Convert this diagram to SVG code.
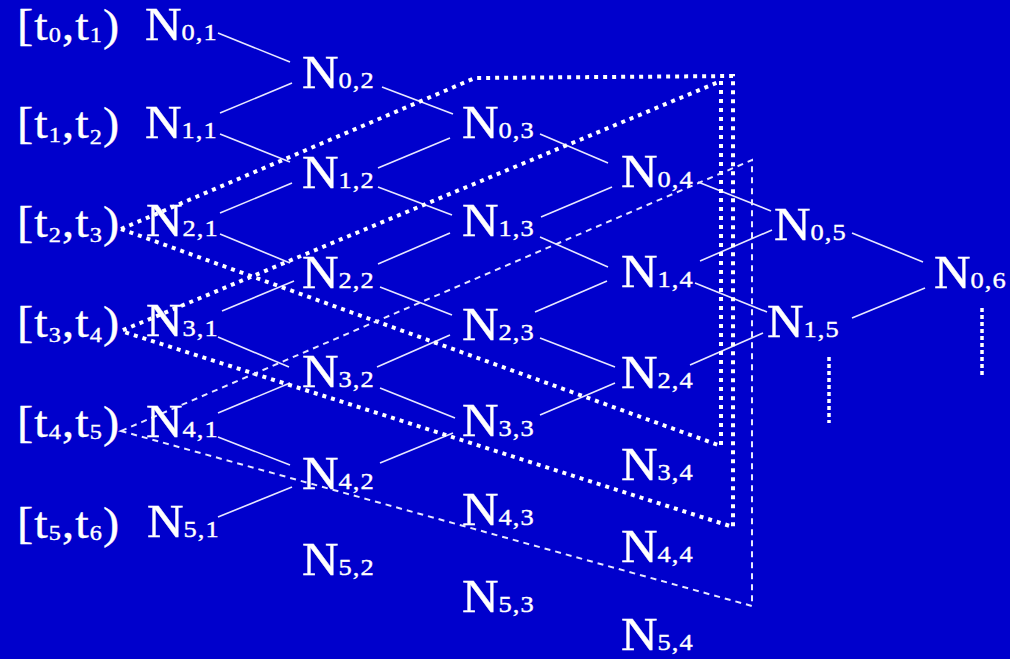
<svg xmlns="http://www.w3.org/2000/svg" width="1010" height="659" viewBox="0 0 1010 659">
<style>
.t{font-family:"Liberation Serif","Times New Roman",serif;fill:#FFFFFF;stroke:#FFFFFF;stroke-width:0.4}
.N{font-size:46px}
.s{font-size:24px;letter-spacing:1px}
.b{font-size:44px;letter-spacing:1px}
.bs{font-size:22px}
.e{stroke:#E8E8FF;stroke-width:1.6;fill:none}
.dot{stroke:#FFFFFF;stroke-width:4;stroke-dasharray:4 5;fill:none}
.vd{stroke:#FFFFFF;stroke-width:3.5;stroke-dasharray:4 3;fill:none}
.ds{stroke:#E8E8FF;stroke-width:2;stroke-dasharray:6 5;fill:none}
</style>
<rect width="1010" height="659" fill="#0000CC"/>
<g id="intervals" class="t">
<text class="b" transform="translate(17,40) scale(1.1,1)">[t<tspan class="bs" dy="2">0</tspan><tspan dy="-2">,t</tspan><tspan class="bs" dy="2">1</tspan><tspan dy="-2">)</tspan></text>
<text class="b" transform="translate(17,138) scale(1.1,1)">[t<tspan class="bs" dy="4">1</tspan><tspan dy="-4">,t</tspan><tspan class="bs" dy="6">2</tspan><tspan dy="-6">)</tspan></text>
<text class="b" transform="translate(17,237) scale(1.1,1)">[t<tspan class="bs" dy="5">2</tspan><tspan dy="-5">,t</tspan><tspan class="bs" dy="5">3</tspan><tspan dy="-5">)</tspan></text>
<text class="b" transform="translate(17,337) scale(1.1,1)">[t<tspan class="bs" dy="5">3</tspan><tspan dy="-5">,t</tspan><tspan class="bs" dy="5">4</tspan><tspan dy="-5">)</tspan></text>
<text class="b" transform="translate(17,437) scale(1.1,1)">[t<tspan class="bs" dy="2">4</tspan><tspan dy="-2">,t</tspan><tspan class="bs" dy="2">5</tspan><tspan dy="-2">)</tspan></text>
<text class="b" transform="translate(17,538) scale(1.1,1)">[t<tspan class="bs" dy="2">5</tspan><tspan dy="-2">,t</tspan><tspan class="bs" dy="2">6</tspan><tspan dy="-2">)</tspan></text>
</g>
<g id="connectors">
<g class="e">
<line x1="218" y1="33" x2="290" y2="62"/>
<line x1="220" y1="113" x2="292" y2="83"/>
<line x1="220" y1="134" x2="290" y2="162"/>
<line x1="220" y1="213" x2="292" y2="183"/>
<line x1="220" y1="234" x2="290" y2="263"/>
<line x1="222" y1="311" x2="294" y2="281"/>
<line x1="218" y1="337" x2="289" y2="367"/>
<line x1="218" y1="413" x2="290" y2="383"/>
<line x1="218" y1="437" x2="290" y2="465"/>
<line x1="218" y1="517" x2="292" y2="487"/>
<line x1="382" y1="87" x2="453" y2="114"/>
<line x1="378" y1="168" x2="450" y2="138"/>
<line x1="378" y1="187" x2="452" y2="215"/>
<line x1="378" y1="264" x2="450" y2="233"/>
<line x1="380" y1="287" x2="452" y2="315"/>
<line x1="377" y1="367" x2="450" y2="335"/>
<line x1="380" y1="388" x2="455" y2="418"/>
<line x1="380" y1="463" x2="453" y2="433"/>
<line x1="540" y1="134" x2="608" y2="163"/>
<line x1="541" y1="217" x2="612" y2="187"/>
<line x1="540" y1="237" x2="608" y2="267"/>
<line x1="535" y1="312" x2="607" y2="281"/>
<line x1="540" y1="338" x2="615" y2="367"/>
<line x1="540" y1="415" x2="615" y2="383"/>
<line x1="698" y1="182" x2="771" y2="211"/>
<line x1="700" y1="261" x2="772" y2="230"/>
<line x1="695" y1="283" x2="767" y2="312"/>
<line x1="690" y1="365" x2="763" y2="333"/>
<line x1="852" y1="233" x2="923" y2="262"/>
<line x1="852" y1="318" x2="925" y2="288"/>
</g>
<polyline class="dot" points="121,229 475,78 733,76 733,527 121,331"/>
<polyline class="dot" points="121,229 721,446 721,81 121,331"/>
<polygon class="ds" points="121,431 752,160 752,606"/>
<line class="vd" x1="829" y1="357" x2="829" y2="423"/>
<line class="vd" x1="982" y1="308" x2="982" y2="375"/>
</g>
<g id="N0_1" class="t"><text class="N" transform="translate(145,40) scale(1.1,1)">N<tspan class="s">0,1</tspan></text></g>
<g id="N1_1" class="t"><text class="N" transform="translate(145,138) scale(1.1,1)">N<tspan class="s">1,1</tspan></text></g>
<g id="N2_1" class="t"><text class="N" transform="translate(146,236) scale(1.1,1)">N<tspan class="s">2,1</tspan></text></g>
<g id="N3_1" class="t"><text class="N" transform="translate(146,336) scale(1.1,1)">N<tspan class="s">3,1</tspan></text></g>
<g id="N4_1" class="t"><text class="N" transform="translate(146,437) scale(1.1,1)">N<tspan class="s">4,1</tspan></text></g>
<g id="N5_1" class="t"><text class="N" transform="translate(147,537) scale(1.1,1)">N<tspan class="s">5,1</tspan></text></g>
<g id="N0_2" class="t"><text class="N" transform="translate(302,88) scale(1.1,1)">N<tspan class="s">0,2</tspan></text></g>
<g id="N1_2" class="t"><text class="N" transform="translate(302,188) scale(1.1,1)">N<tspan class="s">1,2</tspan></text></g>
<g id="N2_2" class="t"><text class="N" transform="translate(302,288) scale(1.1,1)">N<tspan class="s">2,2</tspan></text></g>
<g id="N3_2" class="t"><text class="N" transform="translate(302,387) scale(1.1,1)">N<tspan class="s">3,2</tspan></text></g>
<g id="N4_2" class="t"><text class="N" transform="translate(302,489) scale(1.1,1)">N<tspan class="s">4,2</tspan></text></g>
<g id="N5_2" class="t"><text class="N" transform="translate(302,575) scale(1.1,1)">N<tspan class="s">5,2</tspan></text></g>
<g id="N0_3" class="t"><text class="N" transform="translate(462,138) scale(1.1,1)">N<tspan class="s">0,3</tspan></text></g>
<g id="N1_3" class="t"><text class="N" transform="translate(462,236) scale(1.1,1)">N<tspan class="s">1,3</tspan></text></g>
<g id="N2_3" class="t"><text class="N" transform="translate(462,340) scale(1.1,1)">N<tspan class="s">2,3</tspan></text></g>
<g id="N3_3" class="t"><text class="N" transform="translate(462,436) scale(1.1,1)">N<tspan class="s">3,3</tspan></text></g>
<g id="N4_3" class="t"><text class="N" transform="translate(462,525) scale(1.1,1)">N<tspan class="s">4,3</tspan></text></g>
<g id="N5_3" class="t"><text class="N" transform="translate(462,612) scale(1.1,1)">N<tspan class="s">5,3</tspan></text></g>
<g id="N0_4" class="t"><text class="N" transform="translate(621,187) scale(1.1,1)">N<tspan class="s">0,4</tspan></text></g>
<g id="N1_4" class="t"><text class="N" transform="translate(621,287) scale(1.1,1)">N<tspan class="s">1,4</tspan></text></g>
<g id="N2_4" class="t"><text class="N" transform="translate(621,388) scale(1.1,1)">N<tspan class="s">2,4</tspan></text></g>
<g id="N3_4" class="t"><text class="N" transform="translate(621,480) scale(1.1,1)">N<tspan class="s">3,4</tspan></text></g>
<g id="N4_4" class="t"><text class="N" transform="translate(621,562) scale(1.1,1)">N<tspan class="s">4,4</tspan></text></g>
<g id="N5_4" class="t"><text class="N" transform="translate(621,650) scale(1.1,1)">N<tspan class="s">5,4</tspan></text></g>
<g id="N0_5" class="t"><text class="N" transform="translate(774,240) scale(1.1,1)">N<tspan class="s">0,5</tspan></text></g>
<g id="N1_5" class="t"><text class="N" transform="translate(767,337) scale(1.1,1)">N<tspan class="s">1,5</tspan></text></g>
<g id="N0_6" class="t"><text class="N" transform="translate(934,288) scale(1.1,1)">N<tspan class="s">0,6</tspan></text></g>
</svg>
